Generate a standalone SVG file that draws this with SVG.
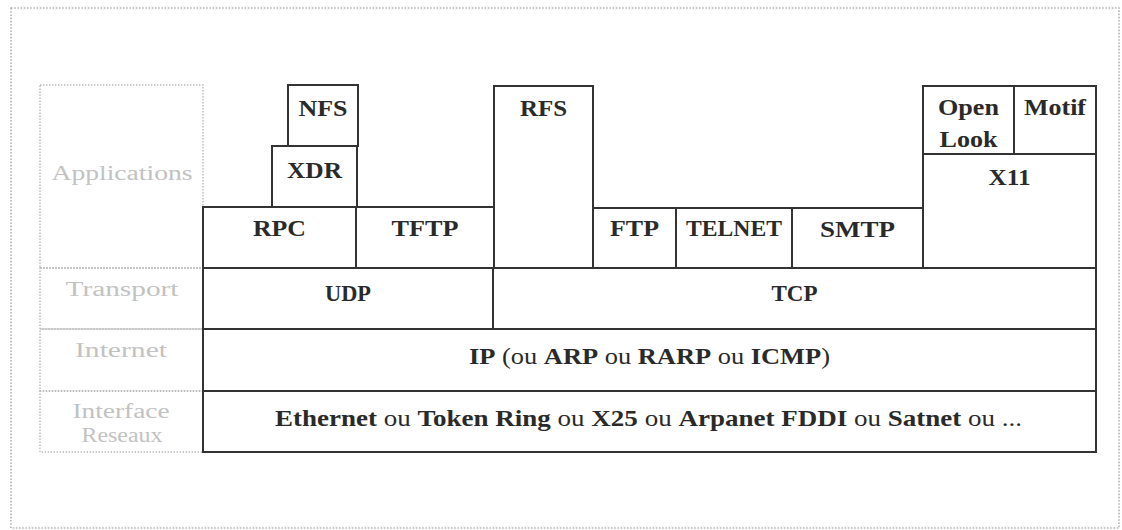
<svg xmlns="http://www.w3.org/2000/svg" width="1122" height="530" viewBox="0 0 1122 530">
  <style>
    .frame { fill: none; stroke: #b4b4b4; stroke-width: 1.6; stroke-dasharray: 1.6 1.6; }
    .lane { fill: none; stroke: #b8b8b8; stroke-width: 1.4; stroke-dasharray: 1.4 1.6; }
    .lane-label { font-family: "Liberation Serif", "Times New Roman", serif; font-size: 20px; fill: #c2c2c2; text-anchor: middle; }
    .box { fill: #ffffff; stroke: #333333; stroke-width: 2; }
    .lbl { font-family: "Liberation Serif", "Times New Roman", serif; font-size: 23px; font-weight: bold; fill: #2a2a2a; text-anchor: middle; }
    .ou { font-weight: normal; }
  </style>
  <rect x="0" y="0" width="1122" height="530" fill="#ffffff"/>

  <!-- outer dotted frame -->
  <rect class="frame" x="11" y="8" width="1108" height="520"/>

  <!-- layer names column -->
  <g id="layer-names">
    <rect class="lane" x="40" y="85" width="163" height="183"/>
    <rect class="lane" x="40" y="268" width="163" height="61"/>
    <rect class="lane" x="40" y="329" width="163" height="62"/>
    <rect class="lane" x="40" y="391" width="163" height="61"/>
    <text class="lane-label" x="122" y="180" textLength="141" lengthAdjust="spacingAndGlyphs">Applications</text>
    <text class="lane-label" x="122" y="296" textLength="113" lengthAdjust="spacingAndGlyphs">Transport</text>
    <text class="lane-label" x="121" y="357" textLength="92" lengthAdjust="spacingAndGlyphs">Internet</text>
    <text class="lane-label" x="121" y="418" textLength="97" lengthAdjust="spacingAndGlyphs">Interface</text>
    <text class="lane-label" x="122" y="442" textLength="81" lengthAdjust="spacingAndGlyphs">Reseaux</text>
  </g>

  <!-- application layer -->
  <g id="nfs">
    <rect class="box" x="288" y="85" width="70" height="61"/>
    <text class="lbl" x="323" y="116" textLength="49" lengthAdjust="spacingAndGlyphs">NFS</text>
  </g>
  <g id="xdr">
    <rect class="box" x="272" y="146" width="85" height="61"/>
    <text class="lbl" x="314.5" y="178" textLength="55" lengthAdjust="spacingAndGlyphs">XDR</text>
  </g>
  <g id="rpc">
    <rect class="box" x="203" y="207" width="153" height="61"/>
    <text class="lbl" x="279.5" y="236" textLength="53" lengthAdjust="spacingAndGlyphs">RPC</text>
  </g>
  <g id="tftp">
    <rect class="box" x="356" y="207" width="138" height="61"/>
    <text class="lbl" x="425" y="236" textLength="67" lengthAdjust="spacingAndGlyphs">TFTP</text>
  </g>
  <g id="rfs">
    <rect class="box" x="494" y="86" width="99" height="182"/>
    <text class="lbl" x="543.5" y="116" textLength="47" lengthAdjust="spacingAndGlyphs">RFS</text>
  </g>
  <g id="ftp">
    <rect class="box" x="593" y="208" width="83" height="60"/>
    <text class="lbl" x="634.5" y="236" textLength="49" lengthAdjust="spacingAndGlyphs">FTP</text>
  </g>
  <g id="telnet">
    <rect class="box" x="676" y="208" width="116" height="60"/>
    <text class="lbl" x="734" y="236" textLength="96" lengthAdjust="spacingAndGlyphs">TELNET</text>
  </g>
  <g id="smtp">
    <rect class="box" x="792" y="208" width="131" height="60"/>
    <text class="lbl" x="857.5" y="237" textLength="75" lengthAdjust="spacingAndGlyphs">SMTP</text>
  </g>
  <g id="x11">
    <rect class="box" x="923" y="154" width="173" height="114"/>
    <text class="lbl" x="1009.5" y="185" textLength="42" lengthAdjust="spacingAndGlyphs">X11</text>
  </g>
  <g id="open-look">
    <rect class="box" x="923" y="86" width="91" height="68"/>
    <text class="lbl" x="968.5" y="115" textLength="61" lengthAdjust="spacingAndGlyphs">Open</text>
    <text class="lbl" x="968.5" y="147" textLength="58" lengthAdjust="spacingAndGlyphs">Look</text>
  </g>
  <g id="motif">
    <rect class="box" x="1014" y="86" width="82" height="68"/>
    <text class="lbl" x="1055" y="115" textLength="62" lengthAdjust="spacingAndGlyphs">Motif</text>
  </g>

  <!-- transport layer -->
  <g id="udp">
    <rect class="box" x="203" y="268" width="290" height="61"/>
    <text class="lbl" x="348" y="301" textLength="46" lengthAdjust="spacingAndGlyphs">UDP</text>
  </g>
  <g id="tcp">
    <rect class="box" x="493" y="268" width="603" height="61"/>
    <text class="lbl" x="794.5" y="301" textLength="46" lengthAdjust="spacingAndGlyphs">TCP</text>
  </g>

  <!-- internet layer -->
  <g id="ip">
    <rect class="box" x="203" y="329" width="893" height="62"/>
    <text class="lbl" x="649.5" y="364" textLength="361" lengthAdjust="spacingAndGlyphs">IP<tspan class="ou"> (ou </tspan>ARP<tspan class="ou"> ou </tspan>RARP<tspan class="ou"> ou </tspan>ICMP<tspan class="ou">)</tspan></text>
  </g>

  <!-- network interface layer -->
  <g id="network-interface">
    <rect class="box" x="203" y="391" width="893" height="61"/>
    <text class="lbl" x="648.5" y="426" textLength="747" lengthAdjust="spacingAndGlyphs">Ethernet<tspan class="ou"> ou </tspan>Token Ring<tspan class="ou"> ou </tspan>X25<tspan class="ou"> ou </tspan>Arpanet FDDI<tspan class="ou"> ou </tspan>Satnet<tspan class="ou"> ou ...</tspan></text>
  </g>

  <!-- no connectors in this layer stack -->
  <g id="connectors"/>
</svg>
